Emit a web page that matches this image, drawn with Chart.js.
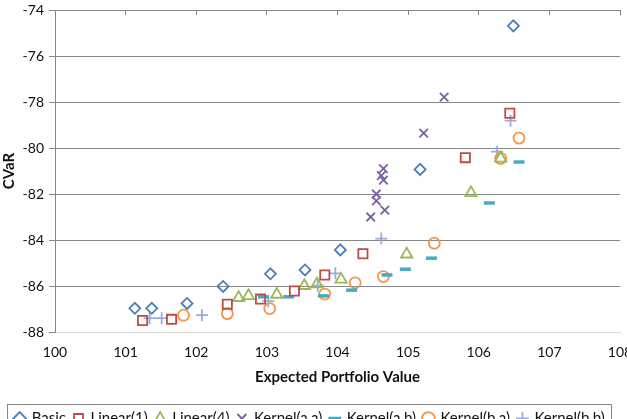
<!DOCTYPE html>
<html><head><meta charset="utf-8">
<script src="https://cdn.jsdelivr.net/npm/chart.js@4/dist/chart.umd.min.js"></script>
<style>
html,body{margin:0;padding:0;background:#fff;overflow:hidden;}
#wrap{width:627px;height:419px;overflow:hidden;position:relative;}
#wrap canvas{position:absolute;left:0;top:0;}
</style></head><body>
<div id="wrap"><canvas id="c" width="627" height="436"></canvas></div>
<script>
const xTicks = [100,101,102,103,104,105,106,107,108];
const yTicks = [-88,-86,-84,-82,-80,-78,-76,-74];

const basicX = [101.13,101.37,101.87,102.38,103.05,103.54,104.04,105.17,106.49];
const basicY = [-86.97,-86.97,-86.76,-86.02,-85.47,-85.30,-84.43,-80.93,-74.69];

const linear1X = [101.24,101.65,102.44,102.91,103.39,103.82,104.36,105.81,106.44];
const linear1Y = [-87.50,-87.45,-86.79,-86.57,-86.22,-85.52,-84.60,-80.42,-78.49];

const linear4X = [102.60,102.74,103.14,103.53,103.71,104.05,104.98,105.89,106.31];
const linear4Y = [-86.51,-86.43,-86.37,-85.99,-85.92,-85.71,-84.62,-81.95,-80.45];

const kernelAAX = [104.47,104.55,104.55,104.67,104.65,104.62,104.65,105.22,105.51];
const kernelAAY = [-83.00,-82.30,-82.00,-82.70,-81.40,-81.20,-80.90,-79.35,-77.79];

const kernelABX = [102.95,103.31,103.80,104.20,104.70,104.96,105.33,106.15,106.57];
const kernelABY = [-86.47,-86.47,-86.43,-86.18,-85.52,-85.27,-84.79,-82.39,-80.61];

const kernelBAX = [101.82,102.44,103.04,103.82,104.25,104.65,105.37,106.31,106.57];
const kernelBAY = [-87.27,-87.20,-86.98,-86.35,-85.86,-85.59,-84.14,-80.45,-79.57];

const kernelBBX = [101.34,101.51,102.08,103.02,103.72,103.97,104.62,106.26,106.45];
const kernelBBY = [-87.40,-87.40,-87.27,-86.66,-85.99,-85.45,-83.94,-80.16,-78.81];

function pts(xs, ys){ return xs.map((x,i)=>({x:x, y:ys[i]})); }

const FONT = "Lato, 'Open Sans', sans-serif";

function ds(label, xs, ys, color, style, radius, bw){
  return {label, data: pts(xs,ys), pointStyle: style, pointRadius: radius, pointHoverRadius: radius,
    pointBorderColor: color, borderColor: color, pointBackgroundColor: 'rgba(255,255,255,0)',
    backgroundColor: 'rgba(255,255,255,0)', pointBorderWidth: bw, borderWidth: bw, showLine:false};
}

const datasets = [
  ds('Basic', basicX, basicY, '#4A7EBB', 'rectRot', 5.5, 1.8),
  ds('Linear(1)', linear1X, linear1Y, '#BE4B48', 'rect', 6.5, 1.8),
  ds('Linear(4)', linear4X, linear4Y, '#98B954', 'triangle', 6.5, 1.8),
  ds('Kernel(a,a)', kernelAAX, kernelAAY, '#7D60A0', 'crossRot', 6, 1.8),
  ds('Kernel(a,b)', kernelABX, kernelABY, '#46AAC5', 'line', 5.5, 3.5),
  ds('Kernel(b,a)', kernelBAX, kernelBAY, '#F69546', 'circle', 5.5, 1.8),
  ds('Kernel(b,b)', kernelBBX, kernelBBY, '#9BAAD8', 'cross', 6, 1.8)
];

const legendBorder = {
  id: 'legendBorder',
  afterDraw(chart){
    const l = chart.legend; if(!l || !l.legendHitBoxes) return;
    const hb = l.legendHitBoxes;
    let minL = Infinity, maxR = -Infinity, top = Infinity;
    hb.forEach(b=>{minL=Math.min(minL,b.left); maxR=Math.max(maxR,b.left+b.width); top=Math.min(top,b.top);});
    const ctx = chart.ctx; ctx.save();
    ctx.strokeStyle = '#868686'; ctx.lineWidth = 1;
    ctx.strokeRect(Math.round(minL-8)+0.5, Math.round(top-7)+0.5, Math.round(maxR-minL+14), 40);
    ctx.restore();
  }
};

function noPad(s){ s.paddingTop = 0; s.paddingBottom = 0; s.paddingLeft = 0; s.paddingRight = 0; }

new Chart(document.getElementById('c'), {
  type: 'scatter',
  data: { datasets },
  plugins: [legendBorder],
  options: {
    responsive: false, animation: false,
    layout: { autoPadding: false, padding: { left: 0, right: 7, top: 10, bottom: 0 } },
    plugins: {
      tooltip: { enabled: false },
      legend: {
        position: 'bottom',
        labels: { usePointStyle: true, boxWidth: 9, boxHeight: 9, padding: 8, color: '#111',
          font: { family: FONT, size: 15 } }
      }
    },
    scales: {
      x: {
        type: 'linear', position: 'bottom', min: 100, max: 108,
        afterBuildTicks: s => { s.ticks = xTicks.map(v=>({value:v})); },
        afterFit: s => { s.height = 71; noPad(s); },
        grid: { display: false, drawTicks: false },
        border: { display: true, color: '#D9D9D9' },
        ticks: { padding: 12, color: '#111', font: { family: FONT, size: 14 } },
        title: { display: true, text: 'Expected Portfolio Value', color: '#111', padding: {top: 6, bottom: 17},
          font: { family: FONT, size: 15, weight: 'bold' } }
      },
      xTop: {
        type: 'linear', position: 'top', min: 100, max: 108,
        afterBuildTicks: s => { s.ticks = xTicks.map(v=>({value:v})); },
        afterFit: s => { s.height = 0; noPad(s); },
        grid: { drawOnChartArea: false, drawTicks: true, tickLength: -5, color: '#868686' },
        border: { display: true, color: '#868686' },
        ticks: { display: false }
      },
      y: {
        type: 'linear', min: -88, max: -74,
        afterBuildTicks: s => { s.ticks = yTicks.map(v=>({value:v})); },
        afterFit: s => { s.width = 55; noPad(s); },
        grid: { color: ctx => (ctx.tick && ctx.tick.value === -88) ? '#D9D9D9' : '#868686', tickLength: 6,
          tickColor: '#868686' },
        border: { display: true, color: '#868686' },
        ticks: { padding: 5, color: '#111', font: { family: FONT, size: 14 } },
        title: { display: true, text: 'CVaR', color: '#111', padding: {top: 0, bottom: 1},
          font: { family: FONT, size: 15, weight: 'bold' } }
      }
    }
  }
});
</script>
</body></html>
